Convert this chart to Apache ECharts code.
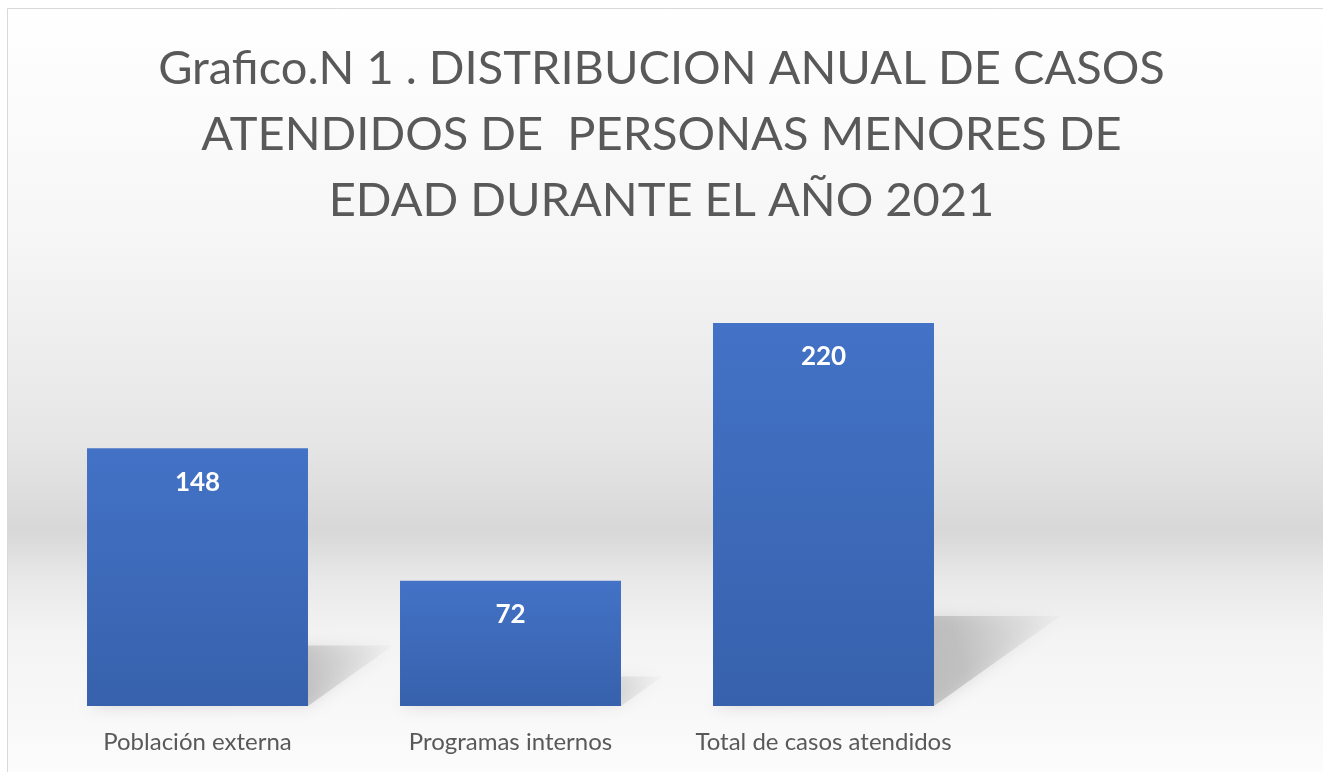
<!DOCTYPE html>
<html lang="es">
<head>
    <meta charset="utf-8" />
    <title>Grafico N 1</title>
    <script src="https://cdn.jsdelivr.net/npm/echarts@6/dist/echarts.min.js"></script>
    <style>
        html, body { margin: 0; padding: 0; background: #fff; }
        #box { width: 1323px; height: 772px; }
    </style>
</head>
<body>
<div id="box"></div>
<script>
    // datos
    var categorias = ['Población externa', 'Programas internos', 'Total de casos atendidos'];
    var casos = [148, 72, 220];
    var titulo = 'Grafico.N 1 . DISTRIBUCION ANUAL DE CASOS\nATENDIDOS DE  PERSONAS MENORES DE\nEDAD DURANTE EL AÑO 2021';

    var myChart = echarts.init(document.getElementById('box'));
    var LG = echarts.graphic.LinearGradient;

    // sombra inclinada detras de cada barra
    function sombra(params, api) {
        var top = api.coord([api.value(0), api.value(1)]);
        var base = api.coord([api.value(0), 0]);
        var half = api.size([1, 0])[0] * 0.353;
        var h = base[1] - top[1];
        var dx = h * 0.33, dy = h * 0.235;
        var xl = base[0] - half, xr = base[0] + half, y = base[1];
        return {
            type: 'polygon',
            shape: { points: [[xl, y], [xr, y], [xr + dx, y - dy], [xl + dx, y - dy]] },
            style: {
                fill: new LG(0, 1, 1, 0, [
                    { offset: 0, color: 'rgba(125,125,125,0.55)' },
                    { offset: 0.7, color: 'rgba(150,150,150,0.4)' },
                    { offset: 1, color: 'rgba(170,170,170,0.05)' }
                ]),
                shadowBlur: 16,
                shadowColor: 'rgba(140,140,140,0.6)'
            }
        };
    }

    var option = {
        animation: false,
        title: {
            text: titulo,
            left: 'center',
            top: 31,
            textStyle: {
                fontFamily: 'Lato',
                fontWeight: 'normal',
                fontSize: 47,
                lineHeight: 66,
                color: '#595959'
            }
        },
        graphic: [{
            type: 'rect',
            z: -10,
            silent: true,
            shape: { x: 7.5, y: 8.5, width: 1340, height: 780 },
            style: {
                fill: new LG(0, 0, 0, 1, [
                    { offset: 0, color: '#ffffff' },
                    { offset: 0.3, color: '#f6f6f6' },
                    { offset: 0.55, color: '#e6e6e6' },
                    { offset: 0.67, color: '#d8d8d8' },
                    { offset: 0.73, color: '#e8e8e8' },
                    { offset: 0.8, color: '#f3f3f3' },
                    { offset: 1, color: '#fdfdfd' }
                ]),
                stroke: '#d9d9d9',
                lineWidth: 1
            }
        }],
        grid: {
            left: 41,
            right: 343,
            top: 323,
            bottom: 66
        },
        xAxis: {
            type: 'category',
            data: categorias,
            axisLine: { show: false },
            axisTick: { show: false },
            axisLabel: {
                interval: 0,
                hideOverlap: false,
                margin: 24,
                fontFamily: 'Lato',
                fontSize: 24,
                color: '#595959'
            }
        },
        yAxis: {
            type: 'value',
            min: 0,
            max: 220,
            show: false,
            splitLine: { show: false }
        },
        series: [
            {
                type: 'custom',
                renderItem: sombra,
                z: 1,
                silent: true,
                data: casos.map(function (v, i) { return [i, v]; })
            },
            {
                type: 'bar',
                z: 3,
                barWidth: '70.6%',
                data: casos,
                itemStyle: {
                    color: new LG(0, 0, 0, 1, [
                        { offset: 0, color: '#4372c6' },
                        { offset: 1, color: '#3761ac' }
                    ])
                },
                label: {
                    show: true,
                    position: 'insideTop',
                    distance: 21,
                    fontFamily: 'Lato',
                    fontWeight: 'bold',
                    fontSize: 26,
                    color: '#ffffff'
                }
            }
        ]
    };

    myChart.setOption(option);
</script>
</body>
</html>
